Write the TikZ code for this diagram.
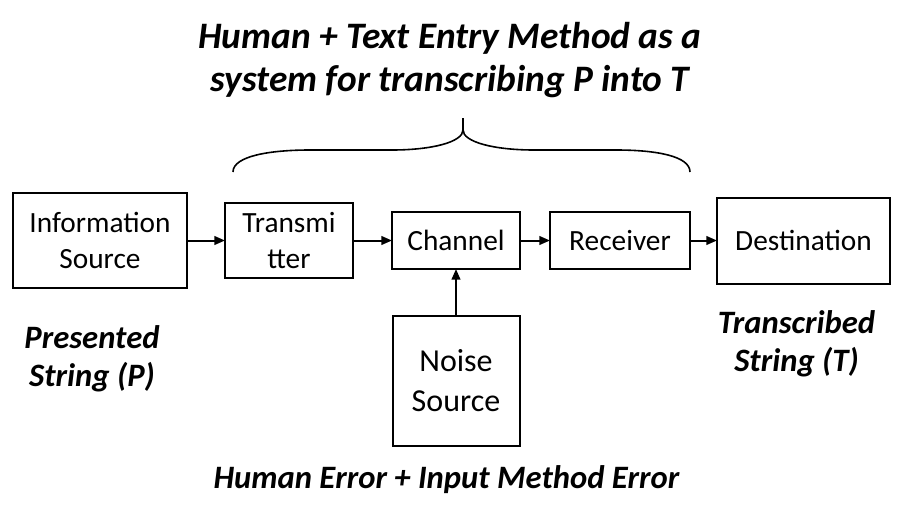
\documentclass[tikz,border=0pt]{standalone}
\usepackage{fontspec}
\setmainfont{Carlito}
\usetikzlibrary{positioning, arrows.meta}

\begin{document}
\begin{tikzpicture}[x=0.75pt, y=-0.75pt,
        block/.style={draw, line width=1.5pt, align=center, inner sep=0pt, outer sep=0pt,
                font=\fontsize{22}{26.5}\selectfont},
        caption/.style={align=center, font=\fontsize{24.5}{28.5}\selectfont\bfseries\itshape},
        >={Triangle[length=8pt, width=6.5pt]}]
        \useasboundingbox (0,0) rectangle (904,518);

        \node[block, minimum width=130.5pt, minimum height=71.25pt] (is) at (100,240.5) {Information\\Source};
        \node[block, minimum width=96pt, minimum height=56.25pt, right=28.5pt of is] (tx) {Transmi\\tter};
        \node[block, minimum width=96pt, minimum height=42.75pt, right=29.25pt of tx] (ch) {Channel};
        \node[block, minimum width=105pt, minimum height=42.75pt, right=22.5pt of ch] (rx) {Receiver};
        \node[block, minimum width=129.75pt, minimum height=64.5pt, right=20.25pt of rx] (dst) {Destination};
        \node[block, minimum width=95.25pt, minimum height=97.5pt, below=35.25pt of ch,
                font=\fontsize{24}{30}\selectfont] (ns) {Noise\\Source};

        \draw[->, line width=1.5pt] (is) -- (tx);
        \draw[->, line width=1.5pt] (tx) -- (ch);
        \draw[->, line width=1.5pt] (ch) -- (rx);
        \draw[->, line width=1.5pt] (rx) -- (dst);
        \draw[->, line width=1.5pt] (ns) -- (ch);

        % brace over the human + method part
        \draw[line width=1.2pt] (233,172) .. controls (233,156) and (270,150) .. (310,150) -- (392,150)
                .. controls (432,150) and (463,142) .. (463,130) -- (463,118)
                (463,130) .. controls (463,142) and (494,150) .. (534,150) -- (616,150)
                .. controls (656,150) and (690,156) .. (690,172);

        \node[caption, font=\fontsize{28}{32}\selectfont\bfseries\itshape] (title) at (450,60)
                {Human + Text Entry Method as a\\system for transcribing P into T};
        \node[caption] (pstr) at (92,358.5) {Presented\\String (P)};
        \node[caption] (tstr) at (796.5,343.5) {Transcribed\\String (T)};
        \node[caption] (err) at (446.5,480) {Human Error + Input Method Error};
\end{tikzpicture}
\end{document}
